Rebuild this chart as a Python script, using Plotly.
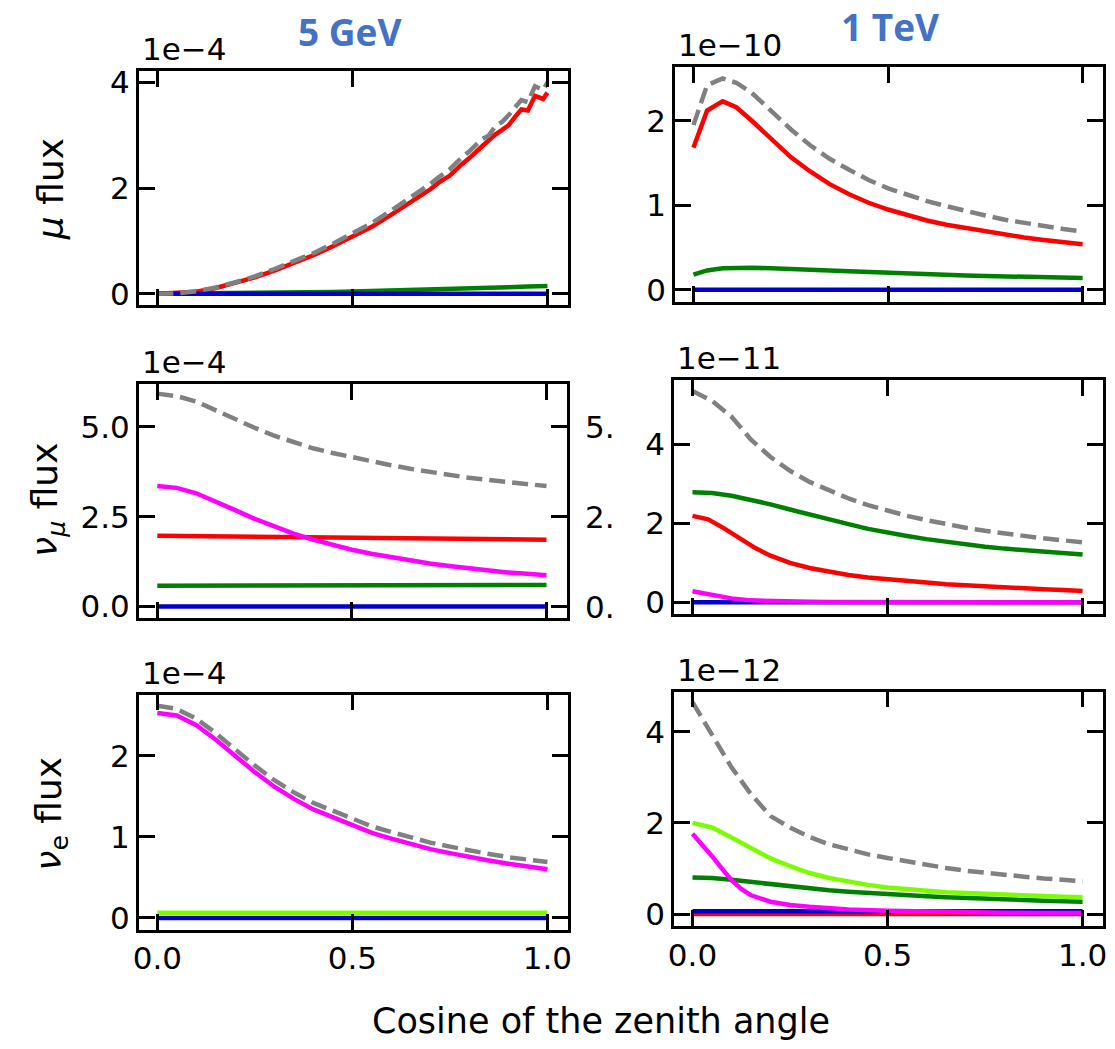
import plotly.graph_objects as go

W, H = 1115, 1049

# ---------------- data ----------------
XS = [0.0, 0.05, 0.1, 0.15, 0.2, 0.25, 0.3, 0.35, 0.4, 0.45, 0.5,
      0.55, 0.6, 0.65, 0.7, 0.75, 0.8, 0.85, 0.9, 0.95, 1.0]

# Top-left: 5 GeV, mu flux (x 1e-4)
tl_x = [0.0, 0.05, 0.1, 0.15, 0.2, 0.25, 0.3, 0.35, 0.4, 0.45, 0.5, 0.55, 0.6, 0.65,
        0.7, 0.72, 0.75, 0.78, 0.8, 0.832, 0.85, 0.867, 0.883, 0.9, 0.917, 0.933,
        0.95, 0.968, 0.989, 1.0]
tl_red = [0.0, 0.01, 0.04, 0.11, 0.2, 0.31, 0.44, 0.58, 0.73, 0.9, 1.08, 1.27, 1.5, 1.73,
          1.98, 2.1, 2.24, 2.45, 2.57, 2.79, 2.92, 3.02, 3.1, 3.19, 3.35, 3.49,
          3.47, 3.75, 3.69, 3.81]
tl_gray = [0.0, 0.01, 0.05, 0.12, 0.22, 0.33, 0.47, 0.61, 0.77, 0.95, 1.14, 1.34, 1.58, 1.82,
           2.08, 2.2, 2.36, 2.58, 2.7, 2.93, 3.0, 3.18, 3.25, 3.38, 3.52, 3.67,
           3.63, 3.93, 3.86, 4.0]
tl_green = [0.0, 0.002, 0.004, 0.007, 0.01, 0.014, 0.018, 0.023, 0.029, 0.036, 0.044,
            0.052, 0.061, 0.07, 0.08, 0.091, 0.102, 0.113, 0.125, 0.137, 0.15]
tl_blue = [0.0] * 21

# Top-right: 1 TeV, mu flux (x 1e-10)
tr_x = [0.0, 0.035, 0.075, 0.11, 0.15, 0.2, 0.25, 0.3, 0.35, 0.4, 0.45, 0.5, 0.55,
        0.6, 0.65, 0.7, 0.75, 0.8, 0.85, 0.9, 0.95, 1.0]
tr_red = [1.68, 2.12, 2.23, 2.16, 2.0, 1.78, 1.57, 1.4, 1.25, 1.13, 1.03, 0.95, 0.88,
          0.82, 0.77, 0.73, 0.69, 0.65, 0.62, 0.59, 0.56, 0.54]
tr_gray = [1.95, 2.42, 2.5, 2.45, 2.33, 2.12, 1.9, 1.71, 1.55, 1.42, 1.3, 1.2, 1.12,
           1.05, 0.99, 0.93, 0.88, 0.83, 0.79, 0.75, 0.72, 0.69]
tr_green = [0.18, 0.23, 0.255, 0.26, 0.26, 0.255, 0.25, 0.24, 0.23, 0.22, 0.21, 0.2,
            0.19, 0.183, 0.176, 0.17, 0.164, 0.158, 0.153, 0.148, 0.144, 0.14]
tr_blue = [0.0] * 22

# Middle-left: 5 GeV, nu_mu flux (x 1e-4)
ml_gray = [5.92, 5.85, 5.7, 5.45, 5.2, 4.97, 4.75, 4.57, 4.4, 4.27, 4.15,
           4.03, 3.93, 3.83, 3.74, 3.66, 3.58, 3.52, 3.46, 3.4, 3.35]
ml_magenta = [3.35, 3.3, 3.15, 2.93, 2.68, 2.44, 2.23, 2.03, 1.86, 1.71, 1.58,
              1.47, 1.37, 1.28, 1.2, 1.13, 1.06, 1.0, 0.95, 0.91, 0.87]
ml_red = [1.97, 1.965, 1.96, 1.955, 1.95, 1.94, 1.935, 1.93, 1.925, 1.92, 1.915,
          1.91, 1.905, 1.9, 1.895, 1.89, 1.885, 1.88, 1.875, 1.865, 1.86]
ml_green = [0.58, 0.58, 0.58, 0.582, 0.583, 0.585, 0.586, 0.588, 0.589, 0.59, 0.592,
            0.593, 0.594, 0.595, 0.596, 0.597, 0.598, 0.599, 0.6, 0.6, 0.6]
ml_blue = [0.0] * 21
ml_side_labels = ["5.", "2.", "0."]
ml_side_vals = [5.0, 2.5, 0.0]

# Middle-right: 1 TeV, nu_mu flux (x 1e-11)
mr_gray = [5.35, 5.1, 4.7, 4.12, 3.68, 3.33, 3.05, 2.83, 2.63, 2.46, 2.32,
           2.19, 2.08, 1.98, 1.89, 1.81, 1.74, 1.68, 1.62, 1.57, 1.52]
mr_green = [2.79, 2.77, 2.7, 2.6, 2.48, 2.35, 2.22, 2.1, 1.98, 1.86, 1.76,
            1.68, 1.6, 1.53, 1.47, 1.41, 1.36, 1.32, 1.28, 1.24, 1.21]
mr_red_x = [0.0, 0.04, 0.08, 0.12, 0.16, 0.2, 0.25, 0.3, 0.35, 0.4, 0.45, 0.5,
            0.55, 0.6, 0.65, 0.7, 0.75, 0.8, 0.85, 0.9, 0.95, 1.0]
mr_red = [2.19, 2.1, 1.88, 1.62, 1.38, 1.18, 1.0, 0.87, 0.77, 0.69, 0.63, 0.58,
          0.54, 0.5, 0.46, 0.43, 0.4, 0.37, 0.35, 0.33, 0.31, 0.29]
mr_magenta = [0.28, 0.18, 0.1, 0.05, 0.03, 0.02, 0.012, 0.008, 0.005, 0.004, 0.003,
              0.002, 0.002, 0.001, 0.001, 0.001, 0.0, 0.0, 0.0, 0.0, 0.0]
mr_blue = [0.0] * 21

# Bottom-left: 5 GeV, nu_e flux (x 1e-4)
bl_gray = [2.62, 2.58, 2.46, 2.28, 2.08, 1.88, 1.7, 1.55, 1.42, 1.32, 1.22,
           1.13, 1.06, 0.99, 0.93, 0.88, 0.83, 0.79, 0.75, 0.72, 0.69]
bl_magenta = [2.53, 2.5, 2.38, 2.2, 2.0, 1.8, 1.62, 1.47, 1.34, 1.24, 1.14,
              1.05, 0.98, 0.91, 0.85, 0.8, 0.75, 0.71, 0.67, 0.63, 0.6]
bl_lightgreen = [0.065] * 21
bl_blue = [0.0] * 21

# Bottom-right: 1 TeV, nu_e flux (x 1e-12)
br_gray = [4.65, 3.95, 3.22, 2.63, 2.15, 1.9, 1.69, 1.53, 1.41, 1.31, 1.23,
           1.15, 1.08, 1.01, 0.95, 0.9, 0.86, 0.82, 0.78, 0.75, 0.72]
br_lightgreen = [2.0, 1.9, 1.68, 1.45, 1.22, 1.05, 0.9, 0.79, 0.71, 0.64, 0.58,
                 0.54, 0.51, 0.48, 0.46, 0.44, 0.43, 0.41, 0.4, 0.38, 0.37]
br_green = [0.8, 0.79, 0.75, 0.7, 0.65, 0.6, 0.56, 0.52, 0.49, 0.46, 0.43,
            0.41, 0.39, 0.37, 0.35, 0.33, 0.32, 0.3, 0.29, 0.28, 0.27]
br_mag_x = [0.0, 0.025, 0.05, 0.075, 0.1, 0.125, 0.15, 0.2, 0.25, 0.3, 0.35, 0.4,
            0.5, 0.6, 0.7, 0.8, 0.9, 1.0]
br_magenta = [1.76, 1.52, 1.27, 1.0, 0.74, 0.55, 0.41, 0.27, 0.2, 0.16, 0.12, 0.1,
              0.07, 0.05, 0.04, 0.03, 0.02, 0.02]
br_blue = [0.06] * 21
br_red = [0.0] * 21

col_titles = ["5 GeV", "1 TeV"]
row_titles = ["<i>μ</i> flux", "<i>ν</i><sub><i>μ</i></sub> flux", "<i>ν</i><sub>e</sub> flux"]
exponents = ["1e\u22124", "1e\u221210", "1e\u22124", "1e\u221211", "1e\u22124", "1e\u221212"]
x_tickvals = [0.0, 0.5, 1.0]
x_ticktext = ["0.0", "0.5", "1.0"]
x_title = "Cosine of the zenith angle"

# ---------------- styles / layout ----------------
RED, GREEN, LGREEN, BLUE, MAG, GRAY = "#ff0000", "#008000", "#7cfc00", "#0000cd", "#ff00ff", "#808080"
LW = 4.5
FONT = "DejaVu Sans, Verdana, sans-serif"
TICK_SIZE = 31

# panel frames in pixels: (left, right, top, bottom)
frames = [
    (134, 567, 65, 302),
    (675, 1107, 61, 299),
    (134, 566, 382, 619),
    (674, 1107, 378, 615),
    (134, 567, 697, 935),
    (674, 1107, 694, 931),
]
yranges = [(-0.211, 4.217), (-0.144, 2.634), (-0.31, 6.19),
           (-0.29, 5.63), (-0.143, 2.756), (-0.254, 4.88)]
yticks = [([0, 2, 4], ["0", "2", "4"]), ([0, 1, 2], ["0", "1", "2"]),
          ([0, 2.5, 5], ["0.0", "2.5", "5.0"]), ([0, 2, 4], ["0", "2", "4"]),
          ([0, 1, 2], ["0", "1", "2"]), ([0, 2, 4], ["0", "2", "4"])]

fig = go.Figure()


def add(i, x, y, color, dash=None):
    n = "" if i == 0 else str(i + 1)
    fig.add_trace(go.Scatter(
        x=x, y=y, mode="lines", xaxis="x" + n, yaxis="y" + n,
        line=dict(color=color, width=LW, dash=dash), showlegend=False, hoverinfo="skip"))


DASH = "16px,7px"
# TL
add(0, tl_x, tl_red, RED)
add(0, XS, tl_green, GREEN)
add(0, XS, tl_blue, BLUE)
add(0, tl_x, tl_gray, GRAY, DASH)
# TR
add(1, tr_x, tr_red, RED)
add(1, tr_x, tr_green, GREEN)
add(1, tr_x, tr_blue, BLUE)
add(1, tr_x, tr_gray, GRAY, DASH)
# ML
add(2, XS, ml_red, RED)
add(2, XS, ml_green, GREEN)
add(2, XS, ml_blue, BLUE)
add(2, XS, ml_magenta, MAG)
add(2, XS, ml_gray, GRAY, DASH)
# MR
add(3, mr_red_x, mr_red, RED)
add(3, XS, mr_green, GREEN)
add(3, XS, mr_blue, BLUE)
add(3, XS, mr_magenta, MAG)
add(3, XS, mr_gray, GRAY, DASH)
# BL
add(4, XS, bl_blue, BLUE)
add(4, XS, bl_lightgreen, LGREEN)
add(4, XS, bl_magenta, MAG)
add(4, XS, bl_gray, GRAY, DASH)
# BR
add(5, XS, br_red, RED)
add(5, XS, br_green, GREEN)
add(5, XS, br_lightgreen, LGREEN)
add(5, XS, br_blue, BLUE)
add(5, br_mag_x, br_magenta, MAG)
add(5, XS, br_gray, GRAY, DASH)

layout = dict(
    width=W, height=H, margin=dict(l=0, r=0, t=0, b=0),
    paper_bgcolor="white", plot_bgcolor="white", showlegend=False,
    font=dict(family=FONT, size=TICK_SIZE, color="black"),
)
axis_common = dict(showline=True, linewidth=2.5, linecolor="black", mirror="ticks",
                   ticks="inside", ticklen=16, tickwidth=2.5, tickcolor="black",
                   showgrid=False, zeroline=False,
                   tickfont=dict(family=FONT, size=TICK_SIZE, color="black"))
for i, (l, r, t, b) in enumerate(frames):
    n = "" if i == 0 else str(i + 1)
    layout["xaxis" + n] = dict(axis_common, domain=[l / W, r / W], range=[-0.0475, 1.0525],
                               anchor="y" + n, tickvals=x_tickvals, ticktext=x_ticktext,
                               showticklabels=(i >= 4))
    layout["yaxis" + n] = dict(axis_common, domain=[1 - b / H, 1 - t / H], range=list(yranges[i]),
                               anchor="x" + n, tickvals=yticks[i][0], ticktext=yticks[i][1])
fig.update_layout(**layout)

ann = []
# column titles
for txt, cx, cy in zip(col_titles, [347, 892], [25, 20]):
    ann.append(dict(text="<b>" + txt + "</b>", x=cx / W, y=1 - cy / H, xref="paper", yref="paper",
                    xanchor="center", yanchor="middle", showarrow=False,
                    font=dict(family="Open Sans", size=37, color="#4472c4")))
# exponent labels
for i, (l, r, t, b) in enumerate(frames):
    ann.append(dict(text=exponents[i], x=(l + 1) / W, y=1 - (t - 2) / H, xref="paper", yref="paper",
                    xanchor="left", yanchor="bottom", showarrow=False,
                    font=dict(family=FONT, size=TICK_SIZE, color="black")))
# row titles
for txt, cx, cy in zip(row_titles, [45, 42, 45], [185, 500, 818]):
    ann.append(dict(text=txt, x=cx / W, y=1 - cy / H, xref="paper", yref="paper",
                    xanchor="center", yanchor="middle", textangle=-90, showarrow=False,
                    font=dict(family=FONT, size=36, color="black")))
# clipped side labels next to middle-left panel
for txt, v in zip(ml_side_labels, ml_side_vals):
    ann.append(dict(text=txt, x=582 / W, y=v, xref="paper", yref="y3",
                    xanchor="left", yanchor="middle", showarrow=False,
                    font=dict(family=FONT, size=TICK_SIZE, color="black")))
# x title
ann.append(dict(text=x_title, x=600 / W, y=1 - 1028 / H, xref="paper", yref="paper",
                xanchor="center", yanchor="middle", showarrow=False,
                font=dict(family=FONT, size=35, color="black")))
fig.update_layout(annotations=ann)

fig.write_html("out.html")
